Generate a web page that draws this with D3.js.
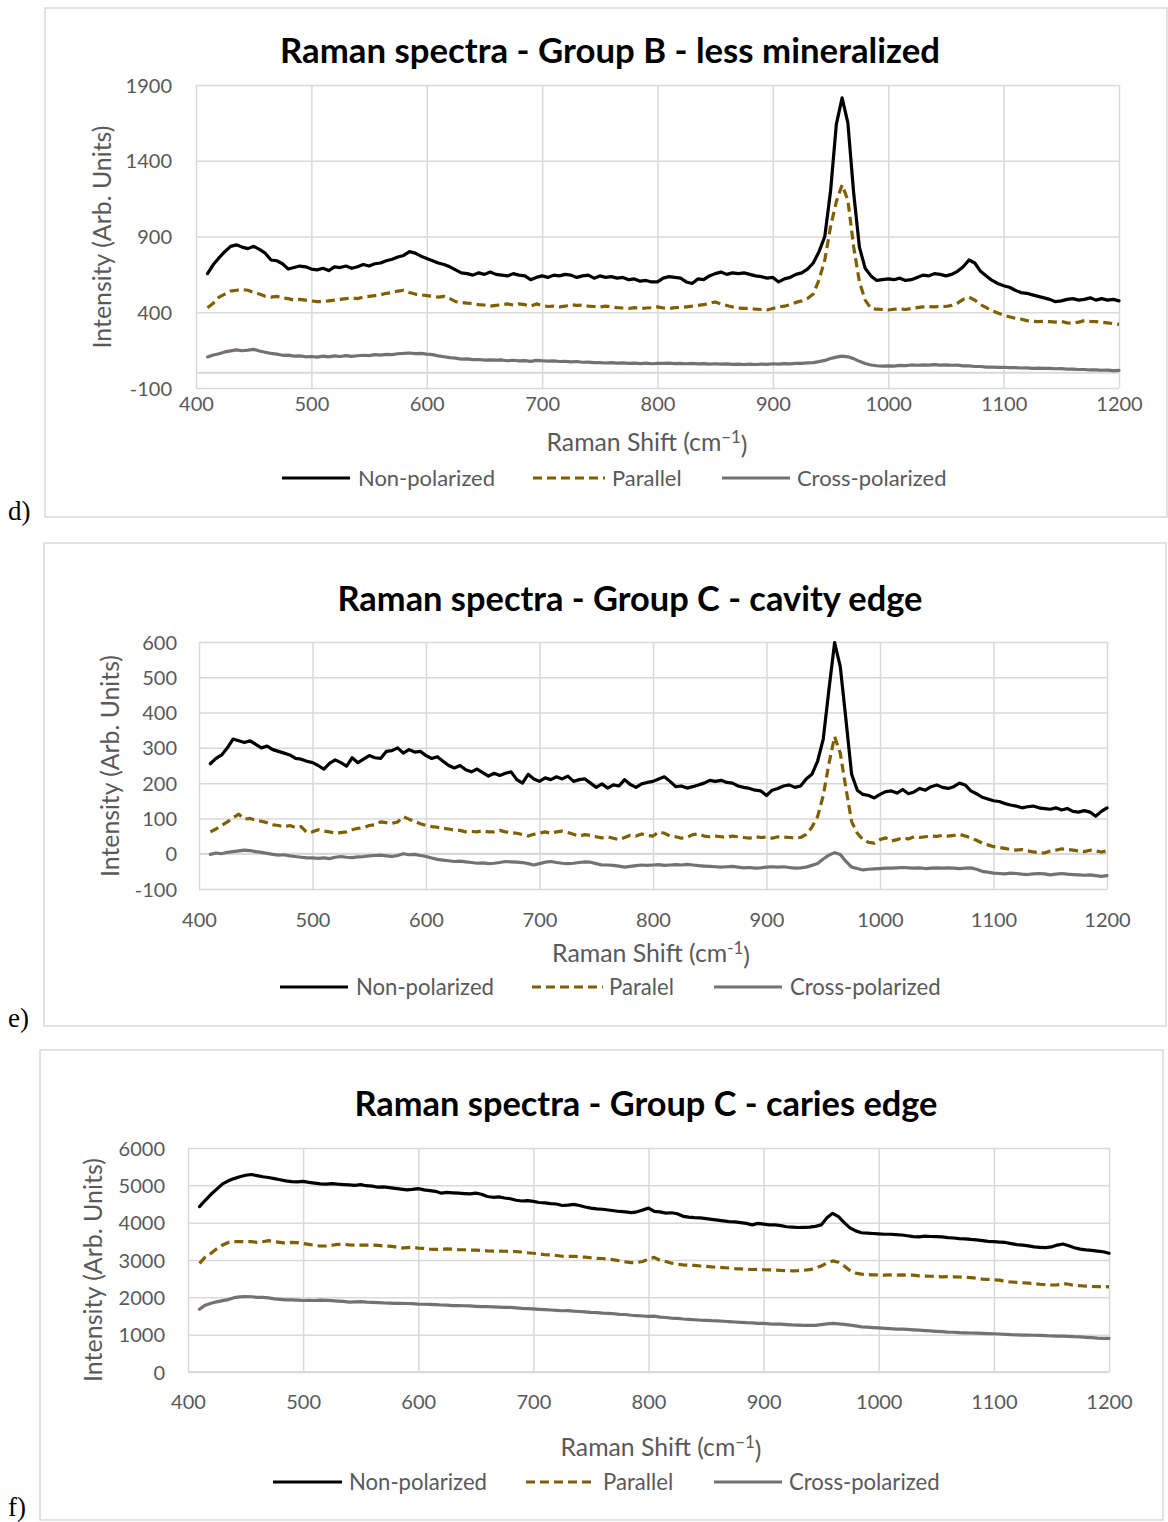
<!DOCTYPE html>
<html>
<head>
<meta charset="utf-8">
<script src="https://cdn.jsdelivr.net/npm/d3@7"></script>
<style>
  html, body { margin: 0; padding: 0; background: #ffffff; }
  svg { display: block; }
</style>
</head>
<body>
<svg id="fig" width="1168" height="1522"></svg>
<script>
// Raman shift sampling grid (cm^-1), shared by every spectrum
const ramanShift = [
  410, 415, 420, 425, 430, 435, 440, 445, 450, 455,
  460, 465, 470, 475, 480, 485, 490, 495, 500, 505,
  510, 515, 520, 525, 530, 535, 540, 545, 550, 555,
  560, 565, 570, 575, 580, 585, 590, 595, 600, 605,
  610, 615, 620, 625, 630, 635, 640, 645, 650, 655,
  660, 665, 670, 675, 680, 685, 690, 695, 700, 705,
  710, 715, 720, 725, 730, 735, 740, 745, 750, 755,
  760, 765, 770, 775, 780, 785, 790, 795, 800, 805,
  810, 815, 820, 825, 830, 835, 840, 845, 850, 855,
  860, 865, 870, 875, 880, 885, 890, 895, 900, 905,
  910, 915, 920, 925, 930, 935, 940, 945, 950, 955,
  960, 965, 970, 975, 980, 985, 990, 995, 1000, 1005,
  1010, 1015, 1020, 1025, 1030, 1035, 1040, 1045, 1050, 1055,
  1060, 1065, 1070, 1075, 1080, 1085, 1090, 1095, 1100, 1105,
  1110, 1115, 1120, 1125, 1130, 1135, 1140, 1145, 1150, 1155,
  1160, 1165, 1170, 1175, 1180, 1185, 1190, 1195, 1200
];

const xTicks = [400, 500, 600, 700, 800, 900, 1000, 1100, 1200];
const yTicksD = [-100, 400, 900, 1400, 1900];
const yTicksE = [-100, 0, 100, 200, 300, 400, 500, 600];
const yTicksF = [0, 1000, 2000, 3000, 4000, 5000, 6000];

const legendNames = ["Non-polarized", "Parallel", "Cross-polarized"];
const legendNamesE = ["Non-polarized", "Paralel", "Cross-polarized"];

// d) Group B - less mineralized
const nonPolD = [
  655, 715, 760, 800, 835, 845, 830, 820, 835, 815,
  790, 745, 740, 720, 685, 695, 705, 700, 685, 680,
  690, 675, 700, 695, 705, 690, 700, 715, 705, 720,
  725, 740, 750, 765, 775, 800, 790, 770, 755, 740,
  725, 715, 700, 680, 660, 655, 645, 660, 650, 665,
  650, 645, 640, 655, 645, 640, 615, 630, 640, 630,
  645, 640, 650, 645, 630, 640, 645, 625, 640, 630,
  635, 625, 630, 615, 620, 605, 610, 600, 600, 625,
  635, 630, 625, 600, 590, 620, 615, 640, 655, 665,
  650, 660, 655, 660, 650, 640, 635, 625, 630, 600,
  620, 630, 650, 660, 685, 725, 800, 900, 1200, 1640,
  1815, 1650, 1190, 830, 690, 640, 610, 615, 620, 615,
  625, 610, 615, 630, 645, 640, 655, 650, 640, 650,
  670, 700, 745, 725, 670, 640, 610, 590, 575, 565,
  545, 530, 525, 515, 505, 495, 485, 470, 475, 485,
  490, 480, 485, 495, 480, 490, 480, 485, 475
];
const parallelD = [
  430, 460, 500, 520, 540, 545, 550, 545, 530, 520,
  505, 500, 505, 495, 490, 480, 485, 480, 475, 470,
  470, 475, 480, 485, 490, 495, 490, 500, 505, 510,
  515, 525, 530, 540, 545, 530, 520, 515, 510, 505,
  500, 505, 490, 470, 465, 460, 458, 450, 448, 440,
  445, 450, 455, 448, 455, 450, 440, 455, 445, 438,
  440, 435, 440, 450, 445, 448, 440, 438, 435, 440,
  435, 430, 428, 425, 430, 425, 428, 430, 435, 428,
  425, 430, 432, 436, 440, 445, 450, 460, 468, 455,
  445, 435, 428, 425, 426, 420, 418, 415, 425, 435,
  440, 450, 465, 475, 490, 520, 613, 745, 965, 1130,
  1240, 1140, 833, 600, 480, 425, 420, 418, 415, 420,
  422, 418, 425, 430, 435, 438, 436, 440, 438, 445,
  460, 485, 500, 480, 450, 430, 410, 395, 380, 370,
  360, 355, 345, 340, 338, 340, 338, 335, 340, 330,
  328, 335, 345, 340, 338, 335, 330, 325, 320
];
const crossD = [
  105, 118, 126, 138, 145, 152, 146, 150, 155, 144,
  136, 128, 124, 116, 117, 110, 112, 106, 108, 104,
  110, 105, 112, 108, 114, 109, 113, 116, 114, 120,
  117, 122, 120, 126, 128, 131, 127, 129, 124, 120,
  112, 106, 100, 97, 91, 92, 87, 88, 84, 86,
  84, 85, 80, 83, 79, 81, 76, 82, 80, 78,
  79, 75, 76, 72, 75, 70, 71, 67, 68, 65,
  67, 64, 66, 62, 64, 61, 64, 60, 63, 62,
  64, 61, 63, 60, 62, 59, 61, 58, 60, 57,
  59, 56, 58, 55, 57, 55, 58, 56, 60, 58,
  61, 59, 62, 63, 66, 68, 74, 82, 95, 104,
  110, 106, 94, 76, 62, 52, 47, 44, 46, 44,
  49, 48, 52, 50, 53, 51, 54, 51, 52, 50,
  51, 46, 46, 42, 42, 38, 38, 36, 37, 34,
  35, 32, 33, 30, 31, 29, 30, 27, 28, 25,
  25, 22, 22, 19, 20, 17, 18, 15, 16
];

// e) Group C - cavity edge
const nonPolE = [
  255, 270, 280, 300, 325, 320, 315, 320, 310, 300,
  305, 295, 290, 285, 280, 270, 268, 262, 258, 250,
  240, 256, 266, 258, 248, 272, 258, 268, 278, 272,
  270, 290, 292, 300, 285, 295, 288, 290, 278, 270,
  275, 262, 250, 243, 250, 238, 232, 240, 230, 220,
  228, 222, 228, 232, 210, 200, 225, 212, 205, 215,
  210, 218, 212, 220, 205, 210, 212, 200, 188, 198,
  186, 195, 192, 210, 196, 188, 198, 202, 205, 212,
  218, 205, 190, 192, 186, 190, 195, 200, 208, 205,
  208, 202, 200, 192, 188, 185, 180, 178, 165, 180,
  185, 192, 195, 188, 192, 212, 225, 262, 325, 465,
  598, 530, 380, 225, 180, 168, 165, 158, 168, 176,
  178, 172, 182, 170, 175, 185, 180, 190, 195, 188,
  185, 190, 200, 195, 178, 170, 160, 155, 150, 148,
  142, 138, 135, 130, 133, 135, 130, 128, 126, 130,
  124, 128, 120, 118, 122, 118, 106, 120, 130
];
const parallelE = [
  62, 70, 80, 90, 102, 112, 98, 100, 95, 92,
  88, 82, 80, 76, 80, 74, 77, 60, 62, 68,
  64, 62, 58, 60, 62, 68, 72, 74, 80, 82,
  90, 88, 86, 90, 105, 98, 92, 85, 80, 77,
  75, 72, 70, 67, 66, 62, 63, 62, 65, 62,
  62, 66, 62, 60, 58, 54, 50, 55, 58, 62,
  58, 62, 64, 60, 55, 50, 54, 52, 48, 45,
  48, 44, 40, 46, 52, 50, 56, 52, 50, 62,
  58, 50, 48, 44, 46, 54, 56, 50, 48, 50,
  48, 46, 50, 48, 46, 44, 48, 46, 47, 44,
  48, 47, 46, 45, 46, 55, 75, 105, 165, 255,
  332, 285, 185, 91, 58, 40, 32, 30, 40, 45,
  36, 40, 45, 42, 48, 46, 48, 50, 49, 52,
  50, 52, 55, 50, 45, 38, 30, 25, 20, 18,
  15, 12, 10, 12, 8, 5, 3, 2, 8, 10,
  14, 12, 10, 8, 6, 10, 8, 5, 8
];
const crossE = [
  -2, 2, 0, 4, 6, 8, 10, 9, 6, 4,
  1, -2, -4, -3, -6, -8, -10, -12, -12, -13,
  -12, -14, -10, -8, -10, -11, -9, -8, -6, -5,
  -4, -6, -8, -5, 0, -3, -2, -5, -8, -12,
  -16, -18, -20, -22, -21, -23, -25, -27, -26, -28,
  -27, -25, -22, -23, -24, -25, -28, -32, -28, -24,
  -22, -25, -27, -28, -27, -25, -23, -24, -28, -32,
  -32, -33, -35, -38, -36, -34, -32, -33, -32, -31,
  -33, -32, -31, -32, -30, -32, -34, -35, -36, -37,
  -38, -37, -36, -38, -40, -39, -41, -40, -38, -37,
  -38, -37, -39, -41, -40, -38, -33, -28, -15, -4,
  3, -2, -22, -38, -42, -46, -44, -43, -42, -41,
  -41, -40, -39, -40, -41, -40, -42, -41, -40, -41,
  -40, -41, -42, -41, -40, -44, -50, -52, -55, -56,
  -57, -55, -56, -58, -59, -57, -56, -57, -60, -58,
  -56, -58, -59, -60, -61, -60, -62, -64, -62
];

// f) Group C - caries edge
const nonPolF = [
  4430, 4600, 4760, 4900, 5040, 5120, 5180, 5230, 5270, 5290,
  5260, 5230, 5210, 5180, 5150, 5120, 5100, 5095, 5105, 5080,
  5060, 5040, 5030, 5045, 5030, 5020, 5010, 5000, 5020, 4990,
  4980, 4950, 4960, 4940, 4920, 4900, 4880, 4890, 4910, 4880,
  4860, 4840, 4790, 4810, 4800, 4790, 4780, 4770, 4790, 4760,
  4700, 4680, 4690, 4660, 4640, 4600, 4580, 4590, 4570, 4540,
  4530, 4510, 4500, 4460, 4470, 4490, 4460, 4420, 4390, 4370,
  4360, 4340, 4320, 4300, 4290, 4270, 4290, 4340, 4390, 4300,
  4290, 4255, 4265, 4240, 4170, 4150, 4135, 4130, 4110, 4090,
  4070, 4050, 4030, 4020, 4000, 3980, 3940, 3980, 3960, 3940,
  3940, 3920, 3890, 3880, 3870, 3875, 3880, 3900, 3940, 4130,
  4250, 4160, 4000, 3860, 3780, 3730, 3720, 3710, 3700, 3690,
  3690, 3680, 3670, 3650, 3625, 3620, 3640, 3630, 3625, 3620,
  3600, 3590, 3575, 3565, 3550, 3540, 3520, 3500, 3490, 3480,
  3470, 3440, 3410, 3400, 3380, 3350, 3340, 3330, 3350, 3400,
  3430, 3380, 3330, 3290, 3270, 3260, 3240, 3220, 3180
];
const parallelF = [
  2910, 3080, 3180, 3300, 3400, 3470, 3490, 3490, 3490, 3495,
  3470, 3490, 3520, 3490, 3470, 3450, 3470, 3465, 3440, 3420,
  3390, 3375, 3375, 3395, 3420, 3420, 3405, 3400, 3400, 3400,
  3400, 3390, 3375, 3370, 3350, 3320, 3330, 3340, 3320, 3310,
  3290, 3285, 3290, 3300, 3290, 3280, 3275, 3265, 3265, 3255,
  3245, 3240, 3240, 3235, 3230, 3225, 3215, 3195, 3180, 3165,
  3140, 3135, 3120, 3100, 3095, 3100, 3085, 3075, 3060, 3045,
  3040, 3025, 3005, 2980, 2950, 2930, 2935, 2960, 3030, 3070,
  2990, 2960, 2915, 2890, 2870, 2860, 2855, 2840, 2830, 2815,
  2805, 2795, 2785, 2770, 2760, 2750, 2745, 2750, 2740, 2735,
  2730, 2720, 2715, 2710, 2715, 2725, 2740, 2780, 2840, 2920,
  2975, 2940, 2840, 2720, 2650, 2620, 2610, 2600, 2600, 2595,
  2600, 2595, 2600, 2590, 2595, 2575, 2570, 2565, 2555, 2550,
  2555, 2550, 2545, 2535, 2530, 2510, 2490, 2480, 2470, 2460,
  2420, 2410, 2400, 2390, 2380, 2370, 2350, 2340, 2330, 2335,
  2370, 2350, 2315, 2310, 2300, 2290, 2285, 2290, 2280
];
const crossF = [
  1680, 1790, 1840, 1880, 1910, 1940, 1990, 2010, 2020, 2015,
  2000, 2000, 1985, 1960, 1945, 1930, 1930, 1925, 1915, 1920,
  1915, 1925, 1920, 1910, 1900, 1890, 1870, 1880, 1885, 1870,
  1865, 1860, 1850, 1845, 1840, 1838, 1835, 1830, 1820, 1815,
  1810, 1805, 1795, 1790, 1780, 1778, 1775, 1770, 1760, 1750,
  1750, 1745, 1740, 1730, 1730, 1720, 1705, 1700, 1690, 1680,
  1670, 1660, 1650, 1640, 1645, 1630, 1620, 1610, 1595, 1590,
  1575, 1570, 1560, 1545, 1540, 1520, 1510, 1500, 1490, 1495,
  1470, 1460, 1445, 1435, 1420, 1410, 1400, 1390, 1385, 1375,
  1370, 1360, 1350, 1340, 1330, 1320, 1315, 1305, 1300, 1290,
  1285, 1280, 1270, 1260, 1255, 1250, 1248, 1250, 1270, 1290,
  1300, 1290, 1275, 1255, 1235, 1210, 1200, 1190, 1180, 1170,
  1160, 1150, 1150, 1140, 1130, 1120, 1110, 1100, 1090, 1080,
  1070, 1065, 1055, 1050, 1045, 1040, 1035, 1030, 1025, 1018,
  1010, 1000, 995, 990, 990, 985, 980, 975, 965, 962,
  960, 955, 945, 940, 930, 920, 905, 900, 900
];

// Line styles for the three polarization configurations
const seriesStyle = [
  { color: "#000000", dash: null },
  { color: "#7F6000", dash: "9,5" },
  { color: "#767171", dash: null }
];

const FONT = "Lato, 'Open Sans', sans-serif";
const TEXT_GREY = "#595959";
const GRID = "#D9D9D9";

const panels = [
  {
    tag: "d)", tagPos: [8, 520],
    title: "Raman spectra - Group B - less mineralized", titlePos: [610, 63], titleW: 660,
    frame: { l: 45, t: 8, r: 1167, b: 517 },
    plot: { l: 196, t: 85, r: 1119, b: 388 },
    yDomain: [-100, 1900], yTicks: yTicksD,
    series: [nonPolD, parallelD, crossD], names: legendNames,
    yTickRight: 172, xTickY: 404,
    xTitle: { cx: 647, cy: 442, w: 201, sup: "\u22121" },
    yTitle: { cx: 102, cy: 237, w: 223 },
    legendY: 478, legend: [[282, 350, 358], [533, 605, 612], [722, 790, 797]], legendW: 137
  },
  {
    tag: "e)", tagPos: [8, 1027],
    title: "Raman spectra - Group C - cavity edge", titlePos: [630, 611], titleW: 585,
    frame: { l: 44, t: 543, r: 1166, b: 1026 },
    plot: { l: 199, t: 642, r: 1107, b: 889 },
    yDomain: [-100, 600], yTicks: yTicksE,
    series: [nonPolE, parallelE, crossE], names: legendNamesE,
    yTickRight: 177, xTickY: 920,
    xTitle: { cx: 651, cy: 953, w: 198, sup: "-1" },
    yTitle: { cx: 110, cy: 766, w: 222 },
    legendY: 987, legend: [[280, 348, 356], [532, 603, 609], [714, 782, 790]], legendW: 138
  },
  {
    tag: "f)", tagPos: [8, 1516],
    title: "Raman spectra - Group C - caries edge", titlePos: [646, 1116], titleW: 583,
    frame: { l: 40, t: 1050, r: 1163, b: 1520 },
    plot: { l: 188, t: 1148, r: 1109, b: 1372 },
    yDomain: [0, 6000], yTicks: yTicksF,
    series: [nonPolF, parallelF, crossF], names: legendNames,
    yTickRight: 165, xTickY: 1402,
    xTitle: { cx: 661, cy: 1447, w: 201, sup: "\u22121" },
    yTitle: { cx: 93, cy: 1270, w: 224 },
    legendY: 1482, legend: [[273, 342, 349], [526, 596, 603], [714, 782, 789]], legendW: 138
  }
];

const svg = d3.select("#fig");
svg.append("rect").attr("width", 1168).attr("height", 1522).attr("fill", "#ffffff");

// Scale a text element's font size so its rendered width equals w
function fitWidth(sel, w) {
  const cur = parseFloat(sel.attr("font-size"));
  const len = sel.node().getComputedTextLength();
  if (len > 0) sel.attr("font-size", (cur * w / len).toFixed(2));
  return parseFloat(sel.attr("font-size"));
}

// plain integer labels with an ASCII hyphen for negatives
const plainNumber = d => String(d);

panels.forEach(p => {
  const g = svg.append("g");

  // chart frame
  g.append("rect")
    .attr("x", p.frame.l).attr("y", p.frame.t)
    .attr("width", p.frame.r - p.frame.l).attr("height", p.frame.b - p.frame.t)
    .attr("fill", "#ffffff").attr("stroke", GRID).attr("stroke-width", 1.5);

  // panel letter
  svg.append("text")
    .attr("x", p.tagPos[0]).attr("y", p.tagPos[1])
    .attr("font-family", "'Liberation Serif', 'DejaVu Serif', serif")
    .attr("font-size", 27).attr("fill", "#000")
    .text(p.tag);

  const x = d3.scaleLinear().domain([400, 1200]).range([p.plot.l, p.plot.r]);
  const y = d3.scaleLinear().domain(p.yDomain).range([p.plot.b, p.plot.t]);

  // gridlines
  const grid = g.append("g");
  grid.append("g")
    .attr("transform", `translate(0,${p.plot.b})`)
    .call(d3.axisBottom(x).tickValues(xTicks).tickSize(-(p.plot.b - p.plot.t)).tickFormat(""))
    .call(a => a.select(".domain").remove())
    .call(a => a.selectAll("line").attr("stroke", GRID).attr("stroke-width", 1.5));
  grid.append("g")
    .attr("transform", `translate(${p.plot.l},0)`)
    .call(d3.axisLeft(y).tickValues(p.yTicks).tickSize(-(p.plot.r - p.plot.l)).tickFormat(""))
    .call(a => a.select(".domain").remove())
    .call(a => a.selectAll("line").attr("stroke", GRID).attr("stroke-width", 1.5));
  // horizontal axis line crossing at zero
  g.append("line")
    .attr("x1", p.plot.l).attr("x2", p.plot.r)
    .attr("y1", y(0)).attr("y2", y(0))
    .attr("stroke", GRID).attr("stroke-width", 2);

  // tick labels
  const yLab = g.append("g")
    .attr("transform", `translate(${p.yTickRight},0)`)
    .call(d3.axisLeft(y).tickValues(p.yTicks).tickSize(0).tickPadding(0).tickFormat(plainNumber));
  yLab.select(".domain").remove();
  yLab.selectAll("text")
    .attr("font-family", FONT).attr("font-size", 20).attr("fill", TEXT_GREY)
    .attr("dy", "0.35em");

  const xLab = g.append("g")
    .attr("transform", `translate(0,${p.xTickY})`)
    .call(d3.axisBottom(x).tickValues(xTicks).tickSize(0).tickPadding(0).tickFormat(plainNumber));
  xLab.select(".domain").remove();
  xLab.selectAll("text")
    .attr("font-family", FONT).attr("font-size", 20).attr("fill", TEXT_GREY)
    .attr("dy", "0.35em");

  // spectra
  const line = d3.line()
    .x((d, i) => x(ramanShift[i]))
    .y(d => y(d));
  p.series.forEach((vals, k) => {
    const st = seriesStyle[k];
    g.append("path")
      .datum(vals)
      .attr("d", line)
      .attr("fill", "none")
      .attr("stroke", st.color)
      .attr("stroke-width", 3.2)
      .attr("stroke-linejoin", "round")
      .attr("stroke-linecap", st.dash ? "butt" : "round")
      .attr("stroke-dasharray", st.dash);
  });

  // chart title
  const title = g.append("text")
    .attr("x", p.titlePos[0]).attr("y", p.titlePos[1])
    .attr("text-anchor", "middle")
    .attr("font-family", FONT).attr("font-weight", "bold")
    .attr("font-size", 30).attr("fill", "#000")
    .text(p.title);
  fitWidth(title, p.titleW);

  // x-axis title with superscript exponent
  const xt = g.append("text")
    .attr("x", p.xTitle.cx).attr("y", p.xTitle.cy)
    .attr("text-anchor", "middle").attr("dy", "0.35em")
    .attr("font-family", FONT).attr("font-size", 21).attr("fill", TEXT_GREY);
  xt.append("tspan").text("Raman Shift (cm");
  xt.append("tspan").attr("dy", "-0.45em").style("font-size", "0.68em").text(p.xTitle.sup);
  xt.append("tspan").attr("dy", "0.45em").text(")");
  fitWidth(xt, p.xTitle.w);

  // y-axis title
  const yt = g.append("text")
    .attr("transform", `translate(${p.yTitle.cx},${p.yTitle.cy}) rotate(-90)`)
    .attr("text-anchor", "middle").attr("dy", "0.35em")
    .attr("font-family", FONT).attr("font-size", 21).attr("fill", TEXT_GREY)
    .text("Intensity (Arb. Units)");
  fitWidth(yt, p.yTitle.w);

  // legend
  const lg = g.append("g");
  let legendSize = 20;
  p.names.forEach((name, k) => {
    const [x1, x2, tx] = p.legend[k];
    const st = seriesStyle[k];
    lg.append("line")
      .attr("x1", x1).attr("x2", x2).attr("y1", p.legendY).attr("y2", p.legendY)
      .attr("stroke", st.color).attr("stroke-width", 3)
      .attr("stroke-dasharray", st.dash);
    const t = lg.append("text")
      .attr("x", tx).attr("y", p.legendY).attr("dy", "0.35em")
      .attr("font-family", FONT).attr("font-size", legendSize).attr("fill", TEXT_GREY)
      .text(name);
    if (k === 0) legendSize = fitWidth(t, p.legendW);
  });
});
</script>
</body>
</html>
